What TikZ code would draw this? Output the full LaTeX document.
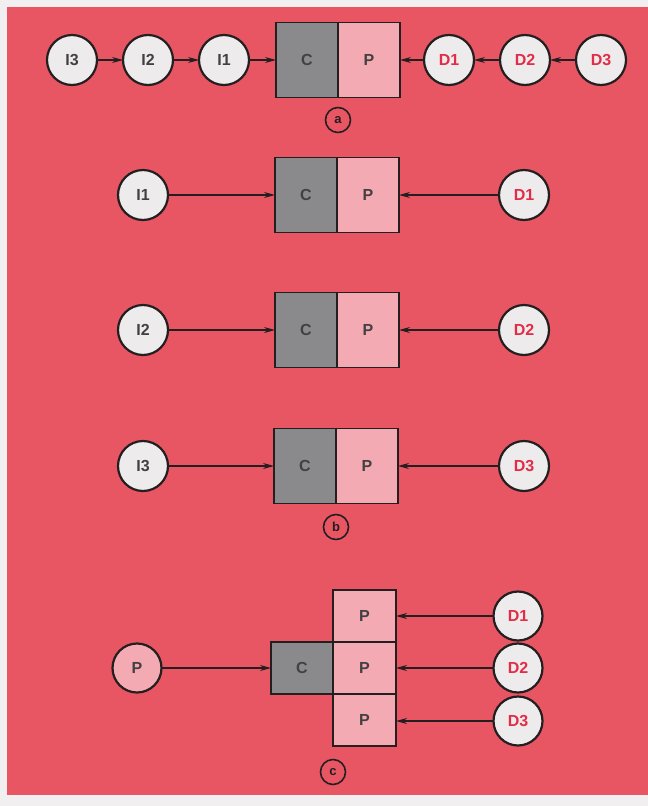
\documentclass[tikz,border=0pt]{standalone}
\usepackage{fontspec}
\setmainfont{Liberation Sans}
\usetikzlibrary{arrows.meta, positioning}

\definecolor{paper}{RGB}{241,239,239}
\definecolor{panelred}{RGB}{233,86,99}
\definecolor{discfill}{RGB}{237,235,236}
\definecolor{cgrey}{RGB}{138,137,139}
\definecolor{ppink}{RGB}{243,170,178}
\definecolor{dred}{RGB}{226,45,72}
\definecolor{ink}{RGB}{35,30,32}

\tikzset{
  disc/.style={circle, draw=ink, line width=2.2pt, fill=discfill, minimum size=50pt,
    inner sep=0pt, outer sep=0pt, text=ink!85, font=\bfseries\fontsize{16}{16}\selectfont},
  ddisc/.style={disc, text=dred},
  pdisc/.style={disc, fill=ppink},
  cbox/.style={rectangle, draw=ink, line width=1.8pt, fill=cgrey, minimum width=62pt,
    minimum height=75pt, inner sep=0pt, outer sep=0pt, text=ink!85,
    font=\bfseries\fontsize{16}{16}\selectfont},
  pbox/.style={cbox, fill=ppink},
  tag/.style={circle, draw=ink, line width=1.6pt, minimum size=25pt, inner sep=0pt,
    text=ink, font=\bfseries\fontsize{13}{13}\selectfont},
  feed/.style={-{Stealth[length=11pt,width=6pt]}, line width=1.2pt, draw=ink},
}

\begin{document}
\begin{tikzpicture}[x=1pt, y=-1pt, node distance=26pt]
    % Sheet
    \fill[paper] (0,0) rectangle (648,806);
    \fill[panelred] (7,7) rectangle (648,795);

    % (a) chain of intermediates and dependents
    \node[cbox] (Ca) at (307,60) {C};
    \node[pbox] (Pa) [right=0pt of Ca] {P};
    \node[disc] (Ia1) [left=27pt of Ca] {I1};
    \node[disc] (Ia2) [left=of Ia1] {I2};
    \node[disc] (Ia3) [left=of Ia2] {I3};
    \node[ddisc] (Da1) [right=24pt of Pa] {D1};
    \node[ddisc] (Da2) [right=of Da1] {D2};
    \node[ddisc] (Da3) [right=of Da2] {D3};
    \node[tag] (ta) at (338,120) {a};

    \draw[feed] (Ia3) -- (Ia2);
    \draw[feed] (Ia2) -- (Ia1);
    \draw[feed] (Ia1) -- (Ca);
    \draw[feed] (Da1) -- (Pa);
    \draw[feed] (Da2) -- (Da1);
    \draw[feed] (Da3) -- (Da2);

    % (b) one pair per row
    \node[cbox] (Cb1) at (306,195) {C};
    \node[pbox] (Pb1) [right=0pt of Cb1] {P};
    \node[disc] (Ib1) at (143,195) {I1};
    \node[ddisc] (Db1) at (524,195) {D1};

    \node[cbox] (Cb2) at (306,330) {C};
    \node[pbox] (Pb2) [right=0pt of Cb2] {P};
    \node[disc] (Ib2) at (143,330) {I2};
    \node[ddisc] (Db2) at (524,330) {D2};

    \node[cbox] (Cb3) at (305,466) {C};
    \node[pbox] (Pb3) [right=0pt of Cb3] {P};
    \node[disc] (Ib3) at (143,466) {I3};
    \node[ddisc] (Db3) at (524,466) {D3};
    \node[tag] (tb) at (336,527) {b};

    \draw[feed] (Ib1) -- (Cb1);
    \draw[feed] (Db1) -- (Pb1);
    \draw[feed] (Ib2) -- (Cb2);
    \draw[feed] (Db2) -- (Pb2);
    \draw[feed] (Ib3) -- (Cb3);
    \draw[feed] (Db3) -- (Pb3);

    % (c) one C with a stack of P
    \node[cbox, minimum width=62pt, minimum height=52pt] (Cc) at (302,668) {C};
    \node[pbox, minimum width=63pt, minimum height=52pt] (Pc2) [right=0pt of Cc] {P};
    \node[pbox, minimum width=63pt, minimum height=52pt] (Pc1) [above=0pt of Pc2] {P};
    \node[pbox, minimum width=63pt, minimum height=52pt] (Pc3) [below=0pt of Pc2] {P};
    \node[pdisc, minimum size=49pt] (Ps) at (137,668) {P};
    \node[ddisc, minimum size=49pt] (Dc1) at (518,616) {D1};
    \node[ddisc, minimum size=49pt] (Dc2) at (518,668) {D2};
    \node[ddisc, minimum size=49pt] (Dc3) at (518,721) {D3};
    \node[tag] (tc) at (333,772) {c};

    \draw[feed] (Ps) -- (Cc);
    \draw[feed] (Dc1) -- (Dc1 -| Pc1.east);
    \draw[feed] (Dc2) -- (Pc2);
    \draw[feed] (Dc3) -- (Dc3 -| Pc3.east);
\end{tikzpicture}
\end{document}
